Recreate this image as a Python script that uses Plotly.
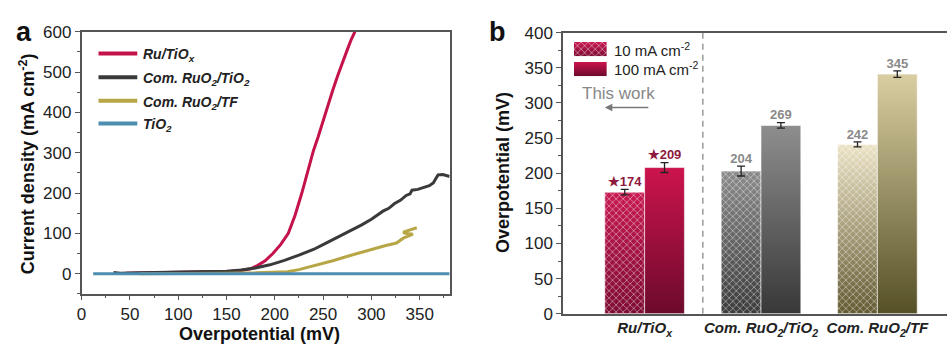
import plotly.graph_objects as go

W, H = 947, 354

# ---------------- Panel a: polarization curves ----------------
ru_x = [46, 80, 110, 140, 155, 165, 175, 182, 190, 198, 206, 214, 221, 228, 233, 237, 240,
        245, 250, 255, 260, 265, 270, 275, 279, 283]
ru_y = [1, 2, 3, 4, 6, 8, 12, 20, 32, 50, 72, 100, 145, 200, 245, 280, 305,
        340, 380, 420, 455, 490, 525, 555, 580, 600]

com_tio2_x = [33, 40, 60, 100, 130, 150, 165, 180, 195, 210, 225, 240, 250, 260, 270, 280,
              290, 300, 312, 318, 324, 330, 336, 340, 342, 348, 354, 360, 364, 366, 369,
              374, 378, 381]
com_tio2_y = [3, 1, 2, 3, 4, 6, 9, 14, 22, 33, 46, 60, 72, 84, 96, 108,
              121, 135, 155, 162, 174, 182, 194, 198, 207, 209, 213, 218, 225, 232, 245,
              246, 242, 241]

com_tf_x = [60, 100, 150, 180, 200, 213, 225, 240, 250, 260, 278, 290, 305, 315, 326, 333,
            343, 335, 333, 340, 347]
com_tf_y = [0, 0, 1, 2, 3, 5, 10, 19, 25, 32, 45, 53, 64, 70, 76, 88,
            98, 100, 103, 108, 114]

tio2_x = [12, 100, 200, 300, 381]
tio2_y = [0, 0, 0, 0, 0]

curve_names = ["Ru/TiO<sub>x</sub>", "Com. RuO<sub>2</sub>/TiO<sub>2</sub>",
               "Com. RuO<sub>2</sub>/TF", "TiO<sub>2</sub>"]
curve_colors = ["#c4124b", "#3a3a3a", "#b7a646", "#4d8db0"]

# ---------------- Panel b: overpotentials ----------------
catalysts = ["Ru/TiO<sub>x</sub>", "Com. RuO<sub>2</sub>/TiO<sub>2</sub>", "Com. RuO<sub>2</sub>/TF"]
eta10 = [173, 203, 241]
eta100 = [208, 268, 341]
err10 = [4, 7, 3.5]
err100 = [7, 4, 4.5]
label10 = ["★174", "204", "242"]
label100 = ["★209", "269", "345"]

grad10 = [("#7e0c34", "#c81a52"), ("#3c3c3c", "#8c8c8c"), ("#625a32", "#ece3c6")]
grad100 = [("#6c0a2c", "#cc144d"), ("#383838", "#8e8e8e"), ("#565026", "#d9cea2")]
label_colors = ["#8e1a3e", "#8a8a8a", "#8a8a8a"]

BW = 0.342
PAT = dict(shape="x", fgcolor="white", bgcolor="rgba(0,0,0,0)", size=5,
           solidity=0.3, fillmode="overlay")

def px(x):
    return x / W

def py(y):
    return 1 - y / H

fig = go.Figure()

# Panel a curves
for xs, ys, name, col in zip([ru_x, com_tio2_x, com_tf_x, tio2_x],
                             [ru_y, com_tio2_y, com_tf_y, tio2_y],
                             curve_names, curve_colors):
    fig.add_trace(go.Scatter(x=xs, y=ys, mode="lines", name=name,
                             line=dict(color=col, width=3), showlegend=False,
                             xaxis="x", yaxis="y"))

# Panel b bars (gradient-filled rectangles built from the values)
centers = list(range(1, len(catalysts) + 1))
for i, c in enumerate(centers):
    for vals, off, grads, patterned in [(eta10, -BW, grad10, True), (eta100, 0.0, grad100, False)]:
        l, r, v = c + off, c + off + BW, vals[i]
        bx = [l, r, r, l, l]
        by = [0, 0, v, v, 0]
        lo, hi = grads[i]
        fig.add_trace(go.Scatter(x=bx, y=by, mode="lines", fill="toself",
                                 fillgradient=dict(type="vertical",
                                                   colorscale=[[0, lo], [1, hi]]),
                                 line=dict(color="rgba(255,255,255,0.7)", width=0.8),
                                 hoverinfo="skip", showlegend=False,
                                 xaxis="x2", yaxis="y2"))
        if patterned:
            fig.add_trace(go.Scatter(x=bx, y=by, mode="lines", fill="toself",
                                     fillcolor="rgba(0,0,0,0)", fillpattern=PAT,
                                     line=dict(width=0), hoverinfo="skip",
                                     showlegend=False, xaxis="x2", yaxis="y2"))

x10 = [c - BW / 2 for c in centers]
x100 = [c + BW / 2 for c in centers]
for xs, vals, errs, labs in [(x10, eta10, err10, label10), (x100, eta100, err100, label100)]:
    fig.add_trace(go.Scatter(x=xs, y=vals, mode="markers",
                             marker=dict(size=1, color="rgba(0,0,0,0)"),
                             error_y=dict(type="data", array=errs, color="#222",
                                          thickness=1.3, width=4),
                             showlegend=False, xaxis="x2", yaxis="y2"))
    fig.add_trace(go.Scatter(x=xs, y=[v + e for v, e in zip(vals, errs)], mode="text",
                             text=labs, textposition="top center",
                             textfont=dict(size=13, color=label_colors, weight="bold",
                                           family="Liberation Sans, Arial, sans-serif"),
                             showlegend=False, xaxis="x2", yaxis="y2"))

# Legend swatches for panel b (unit boxes on helper axes)
unit_x = [0, 1, 1, 0, 0]
unit_y = [0, 0, 1, 1, 0]
fig.add_trace(go.Scatter(x=unit_x, y=unit_y, mode="lines", fill="toself",
                         fillgradient=dict(type="vertical", colorscale=[[0, grad10[0][0]], [1, grad10[0][1]]]),
                         line=dict(width=0), showlegend=False, xaxis="x3", yaxis="y3"))
fig.add_trace(go.Scatter(x=unit_x, y=unit_y, mode="lines", fill="toself",
                         fillcolor="rgba(0,0,0,0)", fillpattern=PAT,
                         line=dict(width=0), showlegend=False, xaxis="x3", yaxis="y3"))
fig.add_trace(go.Scatter(x=unit_x, y=unit_y, mode="lines", fill="toself",
                         fillgradient=dict(type="vertical", colorscale=[[0, grad100[0][0]], [1, grad100[0][1]]]),
                         line=dict(width=0), showlegend=False, xaxis="x4", yaxis="y4"))

FONT = "Liberation Sans, Arial, sans-serif"
axis_common = dict(showline=True, linecolor="#555", linewidth=1.5, showgrid=False,
                   zeroline=False, tickcolor="#555", tickwidth=1.3,
                   tickfont=dict(size=17, color="#222", family=FONT))
hidden = dict(visible=False, range=[0, 1], fixedrange=True)

fig.update_layout(
    width=W, height=H, margin=dict(l=0, r=0, t=0, b=0),
    paper_bgcolor="white", plot_bgcolor="rgba(0,0,0,0)",
    font=dict(family=FONT, color="#222"),
    showlegend=False,
    xaxis=dict(domain=[px(77), px(447)], range=[0, 381], anchor="y", mirror=True,
               ticks="outside", ticklen=4, tickvals=[0, 50, 100, 150, 200, 250, 300, 350],
               minor=dict(ticks="outside", ticklen=2, tickvals=[25, 75, 125, 175, 225, 275, 325, 375],
                          tickcolor="#555"),
               **axis_common),
    yaxis=dict(domain=[py(301), py(24)], range=[-50, 600], anchor="x", mirror=True,
               ticks="outside", ticklen=5, tickvals=[0, 100, 200, 300, 400, 500, 600],
               minor=dict(ticks="outside", ticklen=3, tickvals=[-50, 50, 150, 250, 350, 450, 550],
                          tickcolor="#555"),
               **axis_common),
    xaxis2=dict(domain=[px(561), 1.0], range=[0.299, 3.598], anchor="y2", mirror=True,
                ticks="", tickvals=centers, ticktext=catalysts,
                **{k: v for k, v in axis_common.items() if k != "tickfont"},
                tickfont=dict(size=15, color="#222", family=FONT, weight="bold", style="italic")),
    yaxis2=dict(domain=[py(322), py(25)], range=[0, 400], anchor="x2",
                ticks="outside", ticklen=5, tickvals=list(range(0, 401, 50)),
                minor=dict(ticks="outside", ticklen=3, tickvals=list(range(25, 400, 50)),
                           tickcolor="#555"),
                **axis_common),
    xaxis3=dict(domain=[px(572), px(605)], anchor="y3", **hidden),
    yaxis3=dict(domain=[py(50), py(35)], anchor="x3", **hidden),
    xaxis4=dict(domain=[px(572), px(605)], anchor="y4", **hidden),
    yaxis4=dict(domain=[py(71), py(56)], anchor="x4", **hidden),
)

# Dashed separator in panel b
fig.add_shape(type="line", xref="x2", yref="y2", x0=1.5, x1=1.5, y0=0, y1=400,
              line=dict(color="#999", width=1.5, dash="6px,5px"))

ann = []
# Panel letters
ann.append(dict(text="<b>a</b>", x=px(19), y=py(24), font=dict(size=27, color="#111")))
ann.append(dict(text="<b>b</b>", x=px(495), y=py(24), font=dict(size=27, color="#111")))
# Axis titles
ann.append(dict(text="<b>Overpotential (mV)</b>", x=px(256), y=py(343), font=dict(size=18, color="#111")))
ann.append(dict(text="<b>Current density (mA cm<sup>-2</sup>)</b>", x=px(22), y=py(163),
                textangle=-90, font=dict(size=18, color="#111")))
ann.append(dict(text="<b>Overpotential (mV)</b>", x=px(500), y=py(173),
                textangle=-90, font=dict(size=18, color="#111")))

# Panel a legend (text)
for k, (nm, yy) in enumerate(zip(curve_names, [47, 72, 97, 121])):
    ann.append(dict(text="<b><i>" + nm + "</i></b>", x=px(137), y=py(yy + 2), xanchor="left",
                    font=dict(size=14, color="#222")))
    fig.add_shape(type="line", xref="paper", yref="paper", x0=px(94), x1=px(133),
                  y0=py(yy), y1=py(yy), line=dict(color=curve_colors[k], width=4))

# Panel b legend text
ann.append(dict(text="10 mA cm<sup>-2</sup>", x=px(610), y=py(43), xanchor="left",
                font=dict(size=15, color="#222")))
ann.append(dict(text="100 mA cm<sup>-2</sup>", x=px(610), y=py(63), xanchor="left",
                font=dict(size=15, color="#222")))
ann.append(dict(text="This work", x=px(617), y=py(89), font=dict(size=17, color="#888")))

for a in ann:
    a.setdefault("xref", "paper")
    a.setdefault("yref", "paper")
    a.setdefault("xanchor", "center")
    a.setdefault("yanchor", "middle")
    a["showarrow"] = False
    fig.add_annotation(**a)

fig.add_annotation(x=px(603), y=py(104), xref="paper", yref="paper", text="",
                   showarrow=True, ax=45, ay=0, arrowhead=2, arrowsize=1,
                   arrowwidth=1.5, arrowcolor="#777")

fig.write_html("out.html", config={"displayModeBar": False},
               post_script="document.body.style.margin='0';document.body.style.overflow='hidden';")
